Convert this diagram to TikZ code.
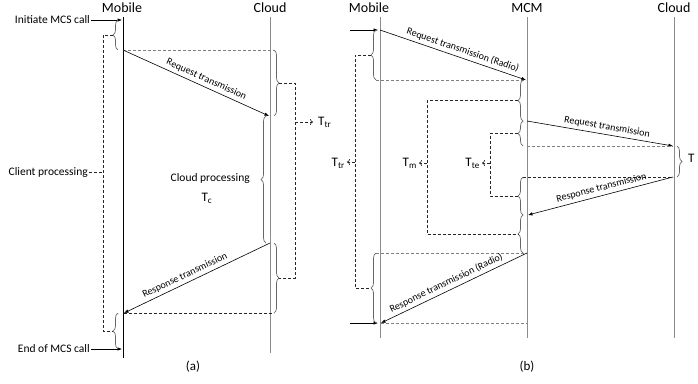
\documentclass[tikz,border=0pt]{standalone}
\usepackage{fontspec}
\setmainfont{Carlito}
\usetikzlibrary{arrows.meta,decorations.pathreplacing}
\begin{document}
\begin{tikzpicture}[x=1pt,y=-1pt,
  head/.style={inner sep=0pt,font=\fontsize{14}{16}\selectfont},
  lbl/.style={inner sep=1pt,font=\fontsize{11.5}{13}\selectfont},
  albl/.style={inner sep=3pt,font=\fontsize{10}{12}\selectfont},
  tlbl/.style={inner sep=0pt,font=\fontsize{13}{15}\selectfont},
  lifeg/.style={draw=black!45,line width=0.9pt},
  lifek/.style={draw=black,line width=0.8pt},
  msg/.style={draw=black,line width=0.6pt,-{Latex[length=4.5pt,width=3.5pt]}},
  refl/.style={draw=black!50,dash pattern=on 3pt off 2pt,line width=0.6pt},
  con/.style={draw=black!85,dash pattern=on 3pt off 2pt,line width=0.7pt},
  cona/.style={con,-{To[length=3pt,width=6pt]}},
  brc/.style={draw=black!60,line width=0.7pt,decorate,decoration={brace,amplitude=5pt}},
]
\useasboundingbox (0,0) rectangle (698,383);

% ================= part (a) =================
\node[head] (amob) at (122,8) {Mobile};
\node[head] (acld) at (270,8) {Cloud};
\coordinate (amT) at (123,17); \coordinate (amB) at (123,358);
\coordinate (acT) at (270,17); \coordinate (acB) at (270,353);
\draw[lifeg] (acT) -- (acB);
\draw[lifek] (amT) -- (amB);

\node[lbl,anchor=east] (init) at (91,20) {Initiate MCS call};
\coordinate (a0) at (122,20);
\draw[msg] (init.east) -- (a0);
\node[lbl,anchor=east] (endc) at (91,349) {End of MCS call};
\coordinate (a9) at (122,349);
\draw[msg] (endc.east) -- (a9);

\coordinate (a1) at (123,50); \coordinate (a2) at (269,116);
\coordinate (a1r) at (274,50);
\draw[refl] (a1) -- (a1r);
\draw[msg] (a1) -- node[albl,sloped,above,pos=0.55] (reqa) {Request transmission} (a2);

\coordinate (a3) at (270,243); \coordinate (a4) at (124,313);
\coordinate (a4r) at (274,313);
\draw[con] (a4) -- (a4r);
\draw[msg] (a3) -- node[albl,sloped,above,pos=0.56] (resa) {Response transmission} (a4);

% braces (a)
\coordinate (bA1s) at (118,20); \coordinate (bA1e) at (118,50);
\draw[brc] (bA1e) -- (bA1s);
\coordinate (bA2s) at (118,313); \coordinate (bA2e) at (118,349);
\draw[brc] (bA2e) -- (bA2s);
\coordinate (bA3s) at (274,50); \coordinate (bA3e) at (274,116);
\draw[brc] (bA3s) -- (bA3e);
\coordinate (bA4s) at (274,243); \coordinate (bA4e) at (274,313);
\draw[brc] (bA4s) -- (bA4e);
\coordinate (bA5s) at (266,116); \coordinate (bA5e) at (266,243);
\draw[brc] (bA5e) -- (bA5s);

% client processing connector
\coordinate (tA1) at (113,35); \coordinate (tA2) at (113,331);
\coordinate (cA1) at (103,35); \coordinate (cA2) at (103,331);
\draw[con] (tA1) -- (cA1) -- (cA2) -- (tA2);
\node[lbl,anchor=east] (clp) at (89,172) {Client processing};
\coordinate (cA3) at (103,172);
\draw[con] (clp.east) -- (cA3);

% transmission connector
\coordinate (tA3) at (279,83); \coordinate (tA4) at (279,278);
\coordinate (cA4) at (295,83); \coordinate (cA5) at (295,278);
\draw[con] (tA3) -- (cA4) -- (cA5) -- (tA4);
\coordinate (cA6) at (295,122); \coordinate (cA7) at (313,122);
\node[tlbl,anchor=west] (ttra) at (318,122) {T\textsubscript{tr}};
\draw[cona] (cA6) -- (cA7);

\node[lbl,anchor=east] (cldp) at (251,178) {Cloud processing};
\node[tlbl] (tca) at (207,198) {T\textsubscript{c}};

\node[tlbl] (capa) at (193,367) {(a)};

% ================= part (b) =================
\node[head] (bmob) at (369,8) {Mobile};
\node[head] (bmcm) at (527,8) {MCM};
\node[head] (bcld) at (674,8) {Cloud};
\coordinate (bmT) at (380,17); \coordinate (bmB) at (380,338);
\coordinate (bxT) at (527,17); \coordinate (bxB) at (527,338);
\coordinate (bcT) at (674,17); \coordinate (bcB) at (674,338);
\draw[lifeg] (bmT) -- (bmB);
\draw[lifeg] (bxT) -- (bxB);
\draw[lifeg] (bcT) -- (bcB);

\coordinate (bin) at (350,30); \coordinate (b0) at (378,30);
\draw[msg] (bin) -- (b0);
\coordinate (bout) at (350,323); \coordinate (b9) at (378,323);
\draw[msg] (bout) -- (b9);

\coordinate (b1) at (380,30); \coordinate (b2) at (526,80);
\draw[msg] (b1) -- node[albl,sloped,above,pos=0.55] (reqr) {Request transmission (Radio)} (b2);
\coordinate (b2l) at (376,80);
\draw[refl] (b2l) -- (b2);

\coordinate (b3) at (527,121); \coordinate (b4) at (673,146);
\draw[msg] (b3) -- node[albl,sloped,above,pos=0.54] (reqb) {Request transmission} (b4);
\coordinate (b4l) at (527,146);
\draw[refl] (b4l) -- (b4);

\coordinate (b5) at (673,177); \coordinate (b6) at (528,215);
\coordinate (b5l) at (523,177);
\draw[con] (b5l) -- (b5);
\draw[msg] (b5) -- node[albl,sloped,above,pos=0.48] (resb) {Response transmission} (b6);

\coordinate (b7) at (527,253); \coordinate (b8) at (381,323);
\coordinate (b7l) at (376,253); \coordinate (b8r) at (527,323);
\draw[refl] (b7l) -- (b7);
\draw[refl] (b8) -- (b8r);
\draw[msg] (b7) -- node[albl,sloped,above,pos=0.53] (resr) {Response transmission (Radio)} (b8);

% braces (b)
\coordinate (bB1s) at (376,30); \coordinate (bB1e) at (376,80);
\draw[brc] (bB1e) -- (bB1s);
\coordinate (bB2s) at (376,253); \coordinate (bB2e) at (376,323);
\draw[brc] (bB2e) -- (bB2s);
\coordinate (bB3s) at (523,80); \coordinate (bB3e) at (523,121);
\draw[brc] (bB3e) -- (bB3s);
\coordinate (bB4s) at (523,121); \coordinate (bB4e) at (523,146);
\draw[brc] (bB4e) -- (bB4s);
\coordinate (bB5s) at (523,177); \coordinate (bB5e) at (523,215);
\draw[brc] (bB5e) -- (bB5s);
\coordinate (bB6s) at (523,215); \coordinate (bB6e) at (523,253);
\draw[brc] (bB6e) -- (bB6s);
\coordinate (bB7s) at (677,146); \coordinate (bB7e) at (677,177);
\draw[brc] (bB7s) -- (bB7e);

% connectors (b)
\coordinate (tB1) at (371,55); \coordinate (tB2) at (371,288);
\coordinate (cB1) at (355,55); \coordinate (cB2) at (355,288);
\draw[con] (tB1) -- (cB1) -- (cB2) -- (tB2);
\coordinate (cB3) at (355,162); \coordinate (cB3e) at (347,162);
\node[tlbl,anchor=east] (ttrb) at (345,163) {T\textsubscript{tr}};
\draw[cona] (cB3) -- (cB3e);

\coordinate (tB3) at (518,100.5); \coordinate (tB4) at (518,234);
\coordinate (cB4) at (427,100.5); \coordinate (cB5) at (427,234);
\draw[con] (tB3) -- (cB4) -- (cB5) -- (tB4);
\coordinate (cB6) at (427,163); \coordinate (cB6e) at (419,163);
\node[tlbl,anchor=east] (tmb) at (417,163) {T\textsubscript{m}};
\draw[cona] (cB6) -- (cB6e);

\coordinate (tB5) at (518,133.5); \coordinate (tB6) at (518,196);
\coordinate (cB7) at (490,133.5); \coordinate (cB8) at (490,196);
\draw[con] (tB5) -- (cB7) -- (cB8) -- (tB6);
\coordinate (cB9) at (490,163); \coordinate (cB9e) at (482,163);
\node[tlbl,anchor=east] (tteb) at (480,163) {T\textsubscript{te}};
\draw[cona] (cB9) -- (cB9e);

\node[tlbl,anchor=west] (tcb) at (688,158) {T};

\node[tlbl] (capb) at (527,367) {(b)};
\end{tikzpicture}
\end{document}
